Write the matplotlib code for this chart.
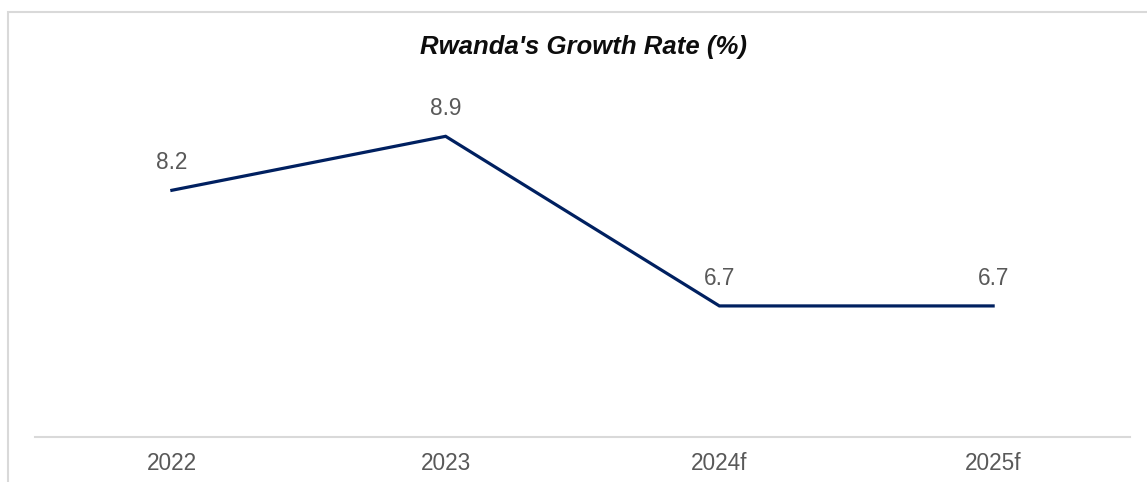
import matplotlib
matplotlib.use("Agg")
import matplotlib.pyplot as plt
import matplotlib.patches as mpatches

plt.rcParams["font.family"] = ["Liberation Sans", "DejaVu Sans"]

years = ["2022", "2023", "2024f", "2025f"]
growth = [8.2, 8.9, 6.7, 6.7]

W, H = 1147, 482
fig = plt.figure(figsize=(W / 100, H / 100), dpi=100)

# light grey frame around the chart area
fig.patches.append(mpatches.Rectangle(
    (8 / W, -0.05), 1.2, (H - 12) / H + 0.05, transform=fig.transFigure,
    facecolor="none", edgecolor="#d9d9d9", linewidth=1.5, zorder=0))

ax = fig.add_axes([35 / W, (H - 437) / H, (1130 - 35) / W, (437 - 51.5) / H])
x = range(len(years))
ax.plot(x, growth, color="#002060", linewidth=2.3, solid_joinstyle="miter")

for xi, v in zip(x, growth):
    ax.annotate(f"{v:.1f}", (xi, v), xytext=(0, 20), textcoords="offset points",
                ha="center", va="center", fontsize=16.3, color="#595959")

ax.set_xlim(-0.5, len(years) - 0.5)
ax.set_ylim(5, 10)
ax.set_xticks(list(x))
ax.set_xticklabels(years, fontsize=16.3, color="#595959")
ax.tick_params(axis="x", length=0, pad=11)
ax.set_yticks([])
for side in ("top", "left", "right"):
    ax.spines[side].set_visible(False)
ax.spines["bottom"].set_color("#d9d9d9")
ax.spines["bottom"].set_linewidth(1.5)

fig.text(584 / W, 1 - 47 / H, "Rwanda's Growth Rate (%)", ha="center", va="center",
         fontsize=18.5, fontweight="bold", fontstyle="italic", color="#0d0d0d")

fig.savefig("out.png", dpi=100)
